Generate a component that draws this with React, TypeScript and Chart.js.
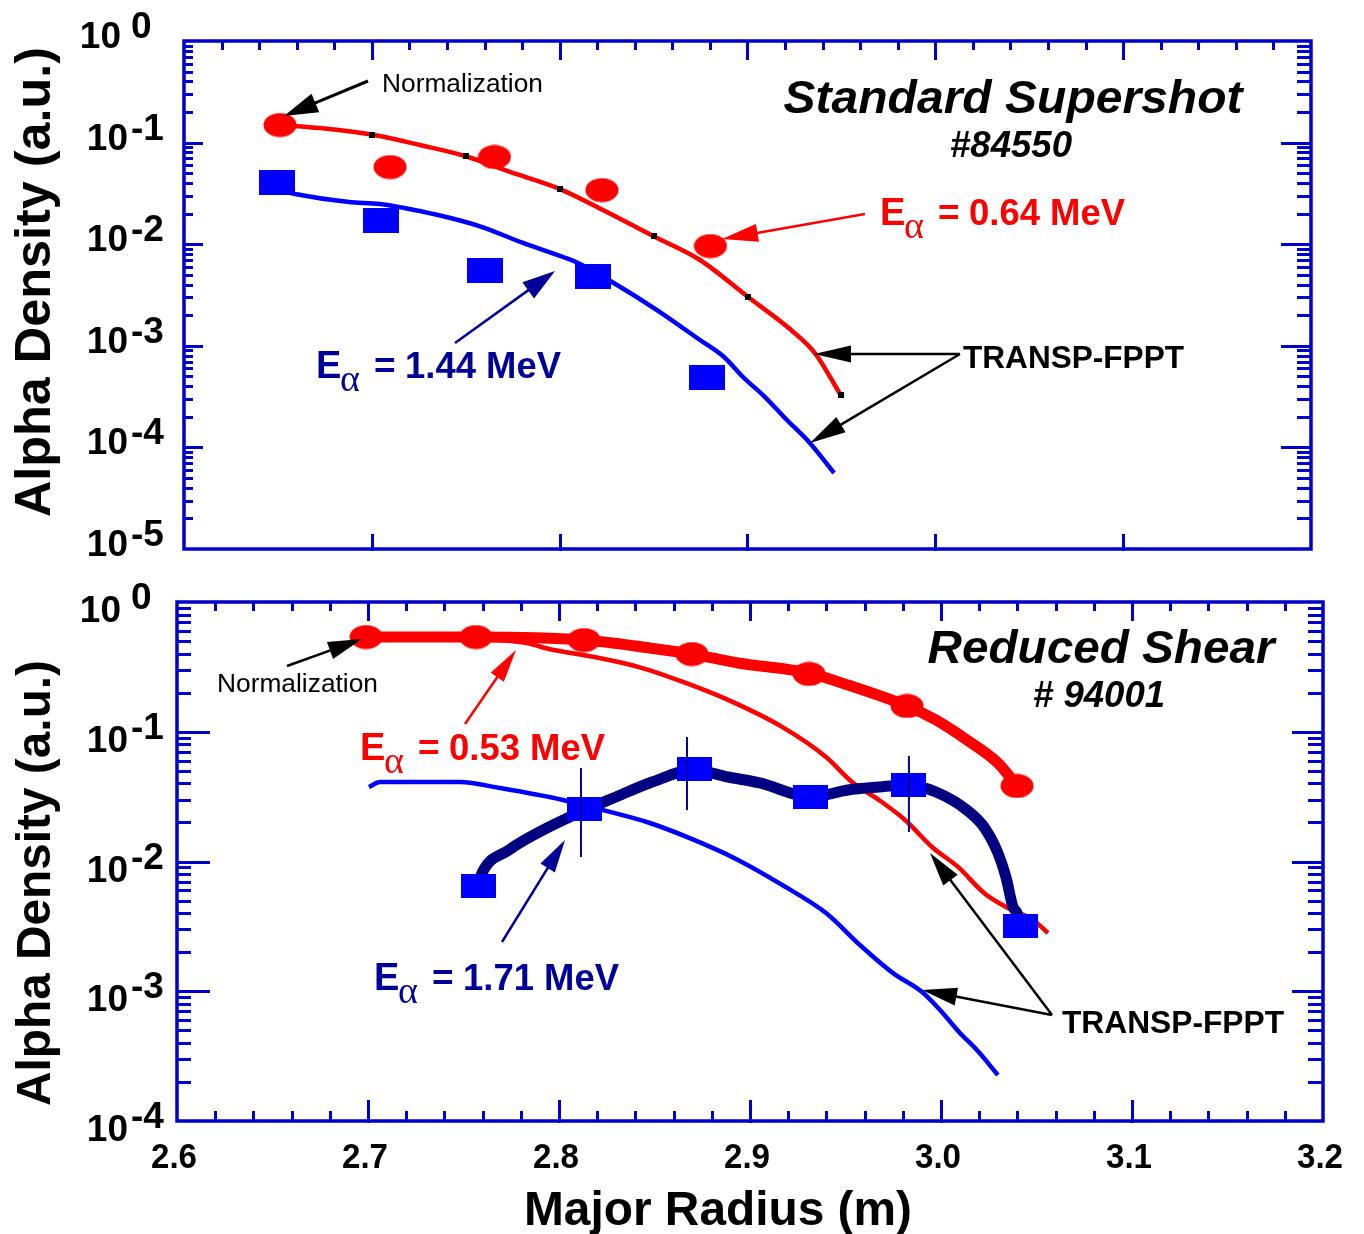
import React, { useEffect, useRef } from 'react';
import { Chart, registerables } from 'chart.js';

Chart.register(...registerables);

// ---------------- Top panel: Standard Supershot #84550 ----------------
const topCircleR = [2.6511, 2.7097, 2.7653, 2.8225, 2.8803];
const topCircleV = [0.149, 0.0575, 0.0722, 0.0341, 0.0096];
const topSquareR = [2.6495, 2.7049, 2.76, 2.8175, 2.8787];
const topSquareV = [0.0409, 0.0173, 0.00551, 0.00481, 0.000488];
const topRedCurveR = [2.6511, 2.6724, 2.7012, 2.7256, 2.7496, 2.7736, 2.8002, 2.8241, 2.8497, 2.8747, 2.9003, 2.9232, 2.9359, 2.9495];
const topRedCurveV = [0.149, 0.139, 0.1188, 0.0947, 0.0738, 0.0514, 0.0349, 0.0212, 0.01205, 0.00699, 0.00302, 0.00143, 0.000849, 0.00033];
const topBlueCurveR = [2.6415, 2.6591, 2.6878, 2.7043, 2.7352, 2.7587, 2.7805, 2.8018, 2.8087, 2.8279, 2.8518, 2.8747, 2.8875, 2.8976, 2.9093, 2.921, 2.9333, 2.9461];
const topBlueCurveV = [0.0374, 0.0312, 0.026, 0.0249, 0.01937, 0.01476, 0.01028, 0.00748, 0.00668, 0.00425, 0.00225, 0.00114, 0.000776, 0.000493, 0.000313, 0.000186, 0.00011, 0.000056];
const topMarkR = [2.7, 2.75, 2.8, 2.85, 2.9, 2.95];
const topMarkV = [0.1188, 0.0738, 0.0349, 0.012, 0.00302, 0.00033];
const topYExps = [0, -1, -2, -3, -4, -5];

// ---------------- Bottom panel: Reduced Shear # 94001 ----------------
const botCircleR = [2.699, 2.7565, 2.8131, 2.8696, 2.9309, 2.9822, 3.0398];
const botCircleV = [0.537, 0.537, 0.509, 0.397, 0.279, 0.158, 0.0382];
const botSquareR = [2.7576, 2.8136, 2.8707, 2.9319, 2.9832, 3.0414];
const botSquareV = [0.00648, 0.0254, 0.0516, 0.0314, 0.0389, 0.00318];
const botRedThickR = [2.699, 2.7565, 2.8131, 2.8476, 2.8696, 2.8937, 2.9304, 2.9513, 2.9822, 2.9974, 3.0136, 3.0298, 3.0398];
const botRedThickV = [0.537, 0.537, 0.509, 0.442, 0.397, 0.339, 0.284, 0.229, 0.158, 0.123, 0.0863, 0.0574, 0.0382];
const botRedThinR = [2.699, 2.7272, 2.7586, 2.7832, 2.7948, 2.8183, 2.8419, 2.8649, 2.8885, 2.9168, 2.9398, 2.9534, 2.9675, 2.9812, 2.9953, 3.0089, 3.0225, 3.034, 3.0482, 3.056];
const botRedThinV = [0.537, 0.537, 0.519, 0.483, 0.434, 0.377, 0.315, 0.242, 0.176, 0.109, 0.0639, 0.041, 0.0298, 0.0209, 0.01294, 0.00908, 0.00572, 0.00446, 0.00354, 0.00281];
const botBlueThinR = [2.7005, 2.7063, 2.7482, 2.7691, 2.8021, 2.823, 2.8476, 2.8707, 2.8937, 2.9168, 2.9398, 2.9576, 2.9749, 2.9901, 2.9995, 3.0099, 3.0188, 3.0298];
const botBlueThinV = [0.0375, 0.041, 0.041, 0.0368, 0.0298, 0.0249, 0.0198, 0.01466, 0.01028, 0.0066, 0.00401, 0.00227, 0.00138, 0.000987, 0.000717, 0.000477, 0.000352, 0.000226];
const botNavyThickR = [2.7576, 2.7597, 2.7738, 2.7948, 2.8136, 2.8298, 2.8487, 2.8707, 2.8885, 2.9052, 2.9319, 2.9513, 2.9675, 2.9832, 2.9974, 3.0136, 3.0225, 3.0298, 3.034, 3.0377, 3.0398, 3.0414];
const botNavyThickV = [0.00648, 0.00815, 0.01227, 0.01845, 0.0249, 0.0314, 0.041, 0.0507, 0.0448, 0.0403, 0.0314, 0.0356, 0.0375, 0.0389, 0.0343, 0.0249, 0.01845, 0.01163, 0.0076, 0.00446, 0.00401, 0.00318];
const botErrR = [2.8115, 2.867, 2.9832];
const botErrLo = [0.01083, 0.0249, 0.01687];
const botErrHi = [0.0526, 0.0911, 0.065];
const botYExps = [0, -1, -2, -3, -4];

const xTickValues = [2.6, 2.7, 2.8, 2.9, 3.0, 3.1, 3.2];
const xTickLabels = ['2.6', '2.7', '2.8', '2.9', '3.0', '3.1', '3.2'];

// ---------------- styling ----------------
const AXIS = '#0000cc';
const RED = '#ff0000';
const BLUE = '#0000ff';
const NAVY = '#000099';
const NAVY_LINE = '#000080';
const SANS = '"Liberation Sans", Arial, Helvetica, sans-serif';
const SERIF = '"Liberation Serif", "DejaVu Serif", serif';
const W = 1364;
const H = 1234;

const zip = (xs: number[], ys: number[]) => xs.map((x, i) => ({ x, y: ys[i] }));

function makeEllipse(w: number, h: number, color: string) {
  const c = document.createElement('canvas');
  c.width = w;
  c.height = h;
  const g = c.getContext('2d')!;
  g.fillStyle = color;
  g.beginPath();
  g.ellipse(w / 2, h / 2, w / 2 - 0.5, h / 2 - 0.5, 0, 0, Math.PI * 2);
  g.fill();
  return c;
}
function makeRect(w: number, h: number, color: string) {
  const c = document.createElement('canvas');
  c.width = w;
  c.height = h;
  const g = c.getContext('2d')!;
  g.fillStyle = color;
  g.fillRect(0, 0, w, h);
  return c;
}

type Txt = {
  text: string; x: number; y: number; size: number; weight?: string; style?: string;
  family?: string; color?: string; align?: CanvasTextAlign; width?: number; rotate?: number;
};
function drawText(ctx: CanvasRenderingContext2D, t: Txt) {
  ctx.save();
  ctx.font = `${t.style || 'normal'} ${t.weight || 'bold'} ${t.size}px ${t.family || SANS}`;
  ctx.fillStyle = t.color || '#000';
  ctx.textBaseline = 'alphabetic';
  ctx.textAlign = t.align || 'left';
  ctx.translate(t.x, t.y);
  if (t.rotate) ctx.rotate(t.rotate);
  if (t.width) {
    const w = ctx.measureText(t.text).width;
    ctx.scale(t.width / w, 1);
  }
  ctx.fillText(t.text, 0, 0);
  ctx.restore();
}

function drawArrow(ctx: CanvasRenderingContext2D, x1: number, y1: number, x2: number, y2: number,
  color: string, lw: number, hl: number, hw: number) {
  const a = Math.atan2(y2 - y1, x2 - x1);
  const bx = x2 - hl * Math.cos(a);
  const by = y2 - hl * Math.sin(a);
  ctx.save();
  ctx.strokeStyle = color;
  ctx.fillStyle = color;
  ctx.lineWidth = lw;
  ctx.beginPath();
  ctx.moveTo(x1, y1);
  ctx.lineTo(bx + 2 * Math.cos(a), by + 2 * Math.sin(a));
  ctx.stroke();
  ctx.beginPath();
  ctx.moveTo(x2, y2);
  ctx.lineTo(bx + (hw / 2) * Math.sin(a), by - (hw / 2) * Math.cos(a));
  ctx.lineTo(bx - (hw / 2) * Math.sin(a), by + (hw / 2) * Math.cos(a));
  ctx.closePath();
  ctx.fill();
  ctx.restore();
}

function drawEAlpha(ctx: CanvasRenderingContext2D, x: number, base: number, value: string, color: string) {
  drawText(ctx, { text: 'E', x, y: base, size: 38, color });
  drawText(ctx, { text: 'α', x: x + 24, y: base + 13, size: 38, weight: 'normal', family: SERIF, color });
  drawText(ctx, { text: '=', x: x + 58, y: base, size: 37, color });
  drawText(ctx, { text: value, x: x + 89, y: base, size: 37, color, width: 156 });
}

type FrameCfg = {
  exps: number[];
  topMaj: number; topMin: number; botMaj: number; botMin: number; bottomMinor: boolean;
  leftMaj: number; leftMin: number; rightMaj: number; rightMin: number;
  baseDy: number; expDy: number; xLabels: boolean;
};

function drawFrame(chart: any, cfg: FrameCfg) {
  const { ctx, chartArea: a, scales } = chart;
  const xs = scales.x;
  const ys = scales.y;
  ctx.save();
  ctx.strokeStyle = AXIS;
  ctx.lineWidth = 3;
  ctx.lineCap = 'butt';
  const seg = (x1: number, y1: number, x2: number, y2: number) => {
    ctx.beginPath();
    ctx.moveTo(x1, y1);
    ctx.lineTo(x2, y2);
    ctx.stroke();
  };
  // x ticks every 0.02
  for (let i = 1; i < 30; i++) {
    const v = 2.6 + i * 0.02;
    const major = i % 5 === 0;
    const px = Math.round(xs.getPixelForValue(v)) + 0.5;
    seg(px, a.top, px, a.top + (major ? cfg.topMaj : cfg.topMin));
    if (major) seg(px, a.bottom + 2, px, a.bottom - cfg.botMaj);
    else if (cfg.bottomMinor) seg(px, a.bottom, px, a.bottom - cfg.botMin);
  }
  // y ticks (log decades)
  const minE = Math.min(...cfg.exps);
  for (let d = minE; d <= 0; d++) {
    for (let k = 1; k <= 9; k++) {
      const v = k * Math.pow(10, d);
      if (v >= 1 || (d === minE && k === 1)) continue;
      const major = k === 1;
      const py = Math.round(ys.getPixelForValue(v)) + 0.5;
      seg(a.left, py, a.left + (major ? cfg.leftMaj : cfg.leftMin), py);
      seg(a.right, py, a.right - (major ? cfg.rightMaj : cfg.rightMin), py);
    }
  }
  ctx.lineWidth = 3.5;
  ctx.strokeRect(a.left, a.top, a.right - a.left, a.bottom - a.top);
  ctx.restore();

  // y tick labels 10^n
  cfg.exps.forEach((e) => {
    const py = ys.getPixelForValue(Math.pow(10, e));
    const baseRight = e === 0 ? 121 : 128;
    drawText(ctx, { text: '10', x: baseRight, y: py + cfg.baseDy, size: 37, align: 'right' });
    drawText(ctx, { text: e === 0 ? '0' : '-' + String(-e), x: 131, y: py + cfg.expDy, size: 37 });
  });
  if (cfg.xLabels) {
    xTickValues.forEach((v, i) => {
      const px = xs.getPixelForValue(v);
      drawText(ctx, { text: xTickLabels[i], x: px - 3, y: a.bottom + 47, size: 35, align: 'center', width: 46 });
    });
  }
}

function topDeco(chart: any) {
  const ctx = chart.ctx as CanvasRenderingContext2D;
  drawFrame(chart, {
    exps: topYExps, topMaj: 19, topMin: 9, botMaj: 15, botMin: 0, bottomMinor: false,
    leftMaj: 19, leftMin: 9, rightMaj: 30, rightMin: 14, baseDy: 7, expDy: -3, xLabels: false,
  });
  drawText(ctx, { text: 'Alpha Density (a.u.)', x: 50, y: 282, size: 50, rotate: -Math.PI / 2, align: 'center', width: 470 });
  drawText(ctx, { text: 'Standard Supershot', x: 1013, y: 113, size: 47, style: 'italic', align: 'center', width: 459 });
  drawText(ctx, { text: '#84550', x: 1011, y: 157, size: 37, style: 'italic', align: 'center', width: 122 });
  drawText(ctx, { text: 'Normalization', x: 382, y: 92, size: 26, weight: 'normal', width: 161 });
  drawArrow(ctx, 368, 81, 284, 116, '#000', 3, 34, 20);
  drawEAlpha(ctx, 880, 225, '0.64 MeV', RED);
  drawArrow(ctx, 865, 214, 722, 239, RED, 2.5, 36, 18);
  drawEAlpha(ctx, 316, 378, '1.44 MeV', NAVY);
  drawArrow(ctx, 455, 343, 555, 271, NAVY, 2.5, 33, 20);
  drawText(ctx, { text: 'TRANSP-FPPT', x: 963, y: 368, size: 32, width: 221 });
  drawArrow(ctx, 960, 354, 814, 354, '#000', 2.5, 37, 17);
  drawArrow(ctx, 960, 354, 810, 443, '#000', 2.5, 36, 18);
}

function botDeco(chart: any) {
  const ctx = chart.ctx as CanvasRenderingContext2D;
  drawFrame(chart, {
    exps: botYExps, topMaj: 19, topMin: 9, botMaj: 21, botMin: 10, bottomMinor: true,
    leftMaj: 33, leftMin: 14, rightMaj: 31, rightMin: 15, baseDy: 20, expDy: 7, xLabels: true,
  });
  drawText(ctx, { text: 'Alpha Density (a.u.)', x: 50, y: 883, size: 48, rotate: -Math.PI / 2, align: 'center', width: 446 });
  drawText(ctx, { text: 'Major Radius (m)', x: 718, y: 1225, size: 49, align: 'center', width: 388 });
  drawText(ctx, { text: 'Reduced Shear', x: 1101, y: 663, size: 47, style: 'italic', align: 'center', width: 347 });
  drawText(ctx, { text: '# 94001', x: 1099, y: 707, size: 36, style: 'italic', align: 'center', width: 132 });
  drawText(ctx, { text: 'Normalization', x: 217, y: 692, size: 26, weight: 'normal', width: 161 });
  drawArrow(ctx, 287, 666, 362, 639, '#000', 2.5, 34, 18);
  drawEAlpha(ctx, 360, 760, '0.53 MeV', RED);
  drawArrow(ctx, 465, 724, 516, 650, RED, 2.5, 33, 16);
  drawEAlpha(ctx, 374, 990, '1.71 MeV', NAVY);
  drawArrow(ctx, 502, 942, 565, 840, NAVY, 2.5, 33, 17);
  drawText(ctx, { text: 'TRANSP-FPPT', x: 1062, y: 1033, size: 32, width: 222 });
  drawArrow(ctx, 1052, 1015, 930, 853, '#000', 2.5, 34, 18);
  drawArrow(ctx, 1052, 1015, 922, 990, '#000', 2.5, 35, 18);
}

const lineDs = (label: string, xs: number[], ys: number[], color: string, width: number, order: number, smooth = true) => ({
  label, data: zip(xs, ys), showLine: true, borderColor: color, borderWidth: width,
  pointRadius: 0, tension: 0, cubicInterpolationMode: smooth ? ('monotone' as const) : ('default' as const),
  fill: false, borderJoinStyle: 'round' as const, order,
});
const pointDs = (label: string, xs: number[], ys: number[], style: any, order: number) => ({
  label, data: zip(xs, ys), showLine: false, pointStyle: style, pointRadius: 12,
  backgroundColor: 'rgba(0,0,0,0)', borderColor: 'rgba(0,0,0,0)', order,
});

function baseOptions(padding: any, yMin: number, deco: (c: any) => void) {
  return {
    options: {
      responsive: false,
      animation: false as const,
      devicePixelRatio: 1,
      events: [] as any[],
      layout: { padding },
      scales: {
        x: { type: 'linear' as const, min: 2.6, max: 3.2, display: false },
        y: { type: 'logarithmic' as const, min: yMin, max: 1, display: false },
      },
      plugins: { legend: { display: false }, tooltip: { enabled: false } },
    },
    plugins: [{ id: 'deco', afterDraw: deco }],
  };
}

export default function App() {
  const topRef = useRef<HTMLCanvasElement>(null);
  const botRef = useRef<HTMLCanvasElement>(null);

  useEffect(() => {
    const redEll = makeEllipse(34, 25, RED);
    const blueSqTop = makeRect(36, 25, BLUE);
    const blueSqBot = makeRect(35, 24, BLUE);
    const blackMark = makeRect(6, 6, '#000');

    const tb = baseOptions({ left: 184, top: 41, right: W - 1311, bottom: H - 549 }, 1e-5, topDeco);
    const top = new Chart(topRef.current!, {
      type: 'scatter',
      data: {
        datasets: [
          pointDs('marks', topMarkR, topMarkV, blackMark, 0),
          pointDs('0.64 MeV data', topCircleR, topCircleV, redEll, 1),
          pointDs('1.44 MeV data', topSquareR, topSquareV, blueSqTop, 1),
          lineDs('TRANSP 0.64', topRedCurveR, topRedCurveV, RED, 4.5, 3),
          lineDs('TRANSP 1.44', topBlueCurveR, topBlueCurveV, BLUE, 4.5, 3),
        ] as any,
      },
      options: tb.options as any,
      plugins: tb.plugins,
    });

    const bb = baseOptions({ left: 177, top: 602, right: W - 1323, bottom: H - 1121 }, 1e-4, botDeco);
    const errDs = botErrR.map((x, i) => lineDs('err' + i, [x, x], [botErrLo[i], botErrHi[i]], NAVY, 2, 0, false));
    const bot = new Chart(botRef.current!, {
      type: 'scatter',
      data: {
        datasets: [
          ...errDs,
          pointDs('0.53 MeV data', botCircleR, botCircleV, redEll, 1),
          pointDs('1.71 MeV data', botSquareR, botSquareV, blueSqBot, 1),
          lineDs('fit 1.71', botNavyThickR, botNavyThickV, NAVY_LINE, 11, 2),
          lineDs('fit 0.53', botRedThickR, botRedThickV, RED, 11, 3),
          lineDs('TRANSP 0.53', botRedThinR, botRedThinV, RED, 4.5, 4),
          lineDs('TRANSP 1.71', botBlueThinR, botBlueThinV, BLUE, 4.5, 4),
        ] as any,
      },
      options: bb.options as any,
      plugins: bb.plugins,
    });

    return () => {
      top.destroy();
      bot.destroy();
    };
  }, []);

  const cs: React.CSSProperties = { position: 'absolute', left: 0, top: 0, width: W, height: H };
  return (
    <div style={{ position: 'absolute', left: 0, top: 0, width: W, height: H, background: '#fff' }}>
      <canvas ref={topRef} width={W} height={H} style={cs} />
      <canvas ref={botRef} width={W} height={H} style={cs} />
    </div>
  );
}
